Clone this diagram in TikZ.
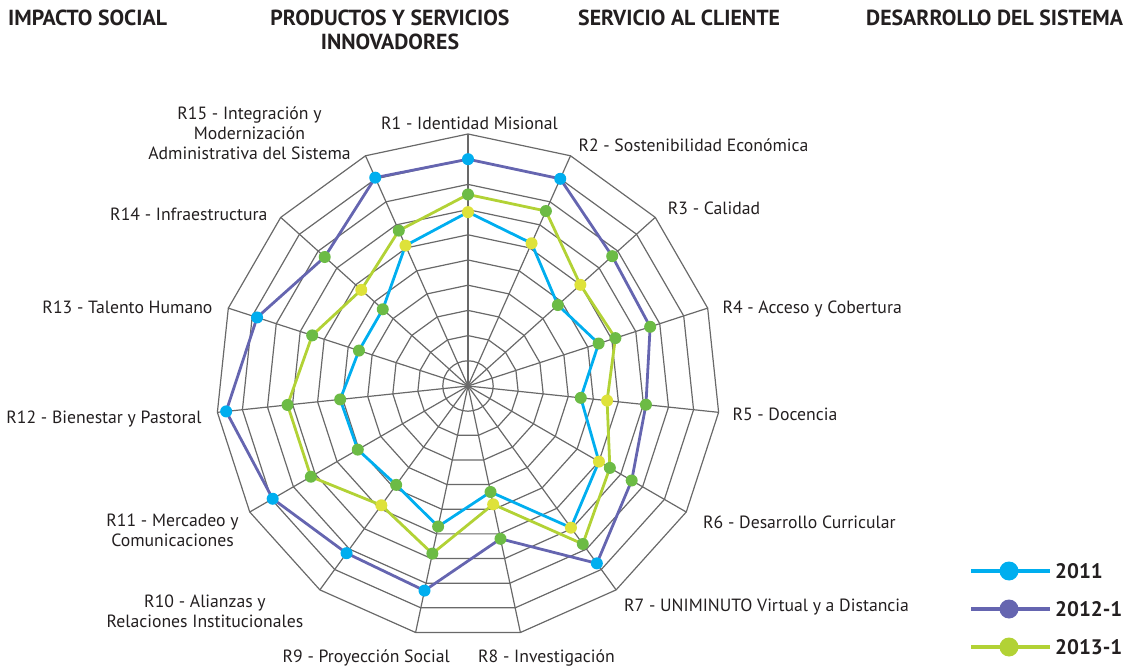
\documentclass[tikz,border=0pt]{standalone}
\usepackage{fontspec}
\setmainfont{PT Sans}

\definecolor{serieblue}{RGB}{0,174,239}
\definecolor{seriepurple}{RGB}{101,101,176}
\definecolor{serielime}{RGB}{178,210,53}
\definecolor{dotgreen}{RGB}{108,187,69}
\definecolor{dotyellow}{RGB}{222,226,58}
\definecolor{gridgray}{RGB}{105,105,105}
\definecolor{inkdark}{RGB}{35,31,32}

\begin{document}
\begin{tikzpicture}[
        x=1pt, y=1pt,
        gridline/.style={draw=gridgray, line width=1.2pt},
        serie/.style={line width=2.8pt, line join=round},
        dot/.style={circle, fill=#1, inner sep=0pt, minimum size=12pt},
        ringlabel/.style={font=\fontsize{17.7}{19.8}\selectfont, text=inkdark, align=center, inner sep=0pt},
        header/.style={font=\bfseries\fontsize{21.8}{24}\selectfont, text=inkdark, align=center, inner sep=0pt},
        legendtext/.style={font=\bfseries\fontsize{21}{24}\selectfont, text=inkdark, anchor=west, inner sep=0pt},
        legendline/.style={line width=4.7pt}
    ]
        \useasboundingbox (-468,-280) rectangle (661,386);

        % Headers
        \node[header, anchor=base west] (head_social) at (-460,360) {IMPACTO SOCIAL};
        \node[header, anchor=base] (head_products) at (-78,336) {PRODUCTOS Y SERVICIOS\\INNOVADORES};
        \node[header, anchor=base west] (head_client) at (110,360) {SERVICIO AL CLIENTE};
        \node[header, anchor=base west] (head_system) at (398,360) {DESARROLLO DEL SISTEMA};

        \begin{scope}[x=25.2pt, y=25.2pt]
            % Web: inner circle, nine 15-gons and the spokes
            \draw[gridline] (0,0) circle (1);
            \foreach \k in {2,...,10}
                \draw[gridline] (90:\k) \foreach \i in {1,...,14} {-- ({90-24*\i}:\k)} -- cycle;
            \foreach \i in {0,...,14}
                \draw[gridline] (0,0) -- ({90-24*\i}:10);

            % Data points, R1 at the top, clockwise
            \foreach \v [count=\i] in {6.9,6.2,4.8,5.45,4.5,6.0,6.95,4.3,5.7,4.85,5.05,5.1,4.55,4.55,6.1}
                \coordinate (p2011_\i) at ({114-24*\i}:\v);
            \foreach \v [count=\i] in {9.0,9.0,7.7,7.6,7.1,7.5,8.7,6.2,8.3,8.2,8.95,9.65,8.8,7.65,9.05}
                \coordinate (p2012_\i) at ({114-24*\i}:\v);
            \foreach \v [count=\i] in {7.6,7.6,6.0,6.15,5.55,6.5,7.75,4.8,6.8,5.85,7.2,7.2,6.5,5.7,6.75}
                \coordinate (p2013_\i) at ({114-24*\i}:\v);

            \draw[serie, serieblue] (p2011_1) \foreach \i in {2,...,15} {-- (p2011_\i)} -- cycle;
            \draw[serie, seriepurple] (p2012_1) \foreach \i in {2,...,15} {-- (p2012_\i)} -- cycle;
            \draw[serie, serielime] (p2013_1) \foreach \i in {2,...,15} {-- (p2013_\i)} -- cycle;

            % Markers
            \foreach \i/\c in {1/dotyellow,2/dotyellow,3/dotgreen,4/dotgreen,5/dotgreen,6/dotyellow,7/dotyellow,8/dotgreen,
                               9/dotgreen,10/dotgreen,11/dotgreen,12/dotgreen,13/dotgreen,14/dotgreen,15/dotyellow}
                \node[dot=\c] (m2011_\i) at (p2011_\i) {};
            \foreach \i/\c in {1/serieblue,2/serieblue,3/dotgreen,4/dotgreen,5/dotgreen,6/dotgreen,7/serieblue,8/dotgreen,
                               9/serieblue,10/serieblue,11/serieblue,12/serieblue,13/serieblue,14/dotgreen,15/serieblue}
                \node[dot=\c] (m2012_\i) at (p2012_\i) {};
            \foreach \i/\c in {1/dotgreen,2/dotgreen,3/dotyellow,4/dotgreen,5/dotyellow,6/dotgreen,7/dotgreen,8/dotyellow,
                               9/dotgreen,10/dotyellow,11/dotgreen,12/dotgreen,13/dotgreen,14/dotyellow,15/dotgreen}
                \node[dot=\c] (m2013_\i) at (p2013_\i) {};
        \end{scope}

        % Axis labels
        \node[ringlabel, anchor=base] (r1_label) at (1.5,256.5) {R1 - Identidad Misional};
        \node[ringlabel, anchor=base west] (r2_label) at (110.3,234.3) {R2 - Sostenibilidad Económica};
        \node[ringlabel, anchor=base west] (r3_label) at (199.7,171.7) {R3 - Calidad};
        \node[ringlabel, anchor=base west] (r4_label) at (254.3,72.7) {R4 - Acceso y Cobertura};
        \node[ringlabel, anchor=base west] (r5_label) at (264.3,-35) {R5 - Docencia};
        \node[ringlabel, anchor=base west] (r6_label) at (235,-142) {R6 - Desarrollo Curricular};
        \node[ringlabel, anchor=base west] (r7_label) at (156,-225) {R7 - UNIMINUTO Virtual y a Distancia};
        \node[ringlabel, anchor=base west] (r8_label) at (10,-276) {R8 - Investigación};
        \node[ringlabel, anchor=base east] (r9_label) at (-18,-276) {R9 - Proyección Social};
        \node[ringlabel, anchor=base] (r10_label) at (-263,-241.7) {R10 - Alianzas y\\Relaciones Institucionales};
        \node[ringlabel, anchor=base] (r11_label) at (-295.5,-160.7) {R11 - Mercadeo y\\Comunicaciones};
        \node[ringlabel, anchor=base east] (r12_label) at (-266.3,-37.3) {R12 - Bienestar y Pastoral};
        \node[ringlabel, anchor=base east] (r13_label) at (-255.3,72.7) {R13 - Talento Humano};
        \node[ringlabel, anchor=base east] (r14_label) at (-200.3,165) {R14 - Infraestructura};
        \node[ringlabel, anchor=base] (r15_label) at (-218.5,226.7) {R15 - Integración y\\Modernización\\Administrativa del Sistema};

        % Legend
        \coordinate (leg2011_a) at (503,-185);
        \coordinate (leg2011_b) at (582,-185);
        \coordinate (leg2012_a) at (503,-223);
        \coordinate (leg2012_b) at (582,-223);
        \coordinate (leg2013_a) at (503,-261);
        \coordinate (leg2013_b) at (582,-261);
        \draw[legendline, serieblue] (leg2011_a) -- (leg2011_b);
        \draw[legendline, seriepurple] (leg2012_a) -- (leg2012_b);
        \draw[legendline, serielime] (leg2013_a) -- (leg2013_b);
        \node[dot=serieblue, minimum size=19pt] (leg2011_dot) at (541,-185) {};
        \node[dot=seriepurple, minimum size=19pt] (leg2012_dot) at (541,-223) {};
        \node[dot=serielime, minimum size=19pt] (leg2013_dot) at (541,-261) {};
        \node[legendtext] (leg2011_text) at (587,-185) {2011};
        \node[legendtext] (leg2012_text) at (587,-223) {2012-1};
        \node[legendtext] (leg2013_text) at (587,-261) {2013-1};
\end{tikzpicture}
\end{document}
